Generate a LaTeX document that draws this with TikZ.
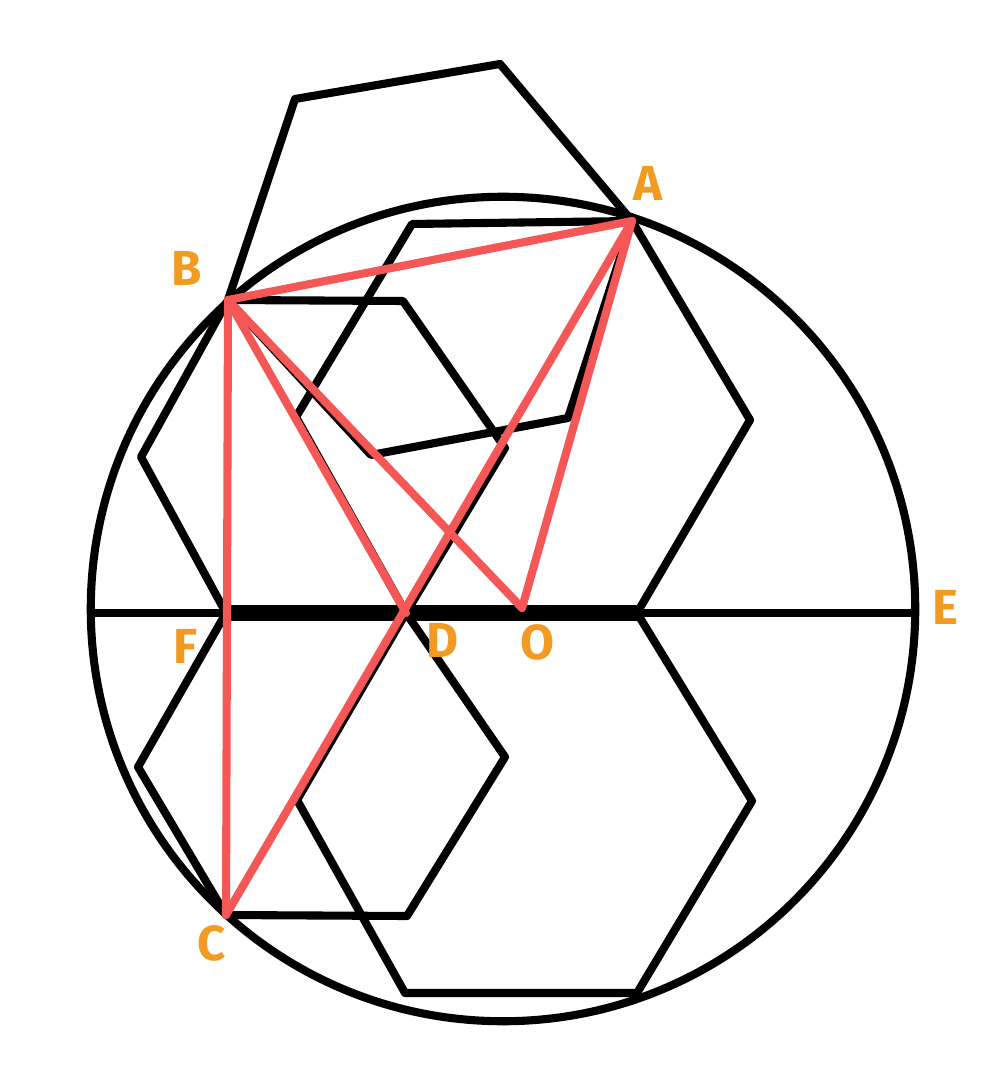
\documentclass[tikz,border=0pt]{standalone}
\usepackage{fontspec}
\setmainfont{Fira Sans}
\definecolor{chordred}{HTML}{F55656}
\definecolor{tagorange}{HTML}{F19B22}

\begin{document}
\begin{tikzpicture}[x=0.01cm,y=-0.01cm,line width=2.3pt,line join=round,line cap=round]
  \tikzstyle{hexside}=[draw=black]
  \tikzstyle{chord}=[draw=chordred]
  \tikzstyle{pttag}=[text=tagorange,font=\fontsize{14}{16}\selectfont\bfseries]

  \useasboundingbox (0,0) rectangle (1000,1083);

  % points of the figure
  \foreach \name/\x/\y in {A/632/221, B/228/300, C/226/915, D/406/613, F/226/613,
                           O/522/608, E/915/613, W/91/613, T/637/613, M/503/609}
    \coordinate (\name) at (\x,\y);

  % hexagon corners
  \foreach \name/\x/\y in {u2/403/301, u3/505/448, u6/141/457,
                           l3/505/757, l4/407/916, l6/138/767,
                           g1/412/224, g3/750/420, g6/296/417,
                           k3/752/801, k4/637/993, k5/405/993, k6/297/800,
                           t2/295/99, t3/500/64, t5/568/418, t6/371/455}
    \coordinate (\name) at (\x,\y);

  \draw (M) circle (4.12cm);
  \draw (W) -- (E);
  \draw[line width=4.8pt,line cap=butt] (F) -- (T);

  \draw[hexside] (B) -- (u2) -- (u3) -- (D) -- (F) -- (u6) -- cycle;
  \draw[hexside] (F) -- (D) -- (l3) -- (l4) -- (C) -- (l6) -- cycle;
  \draw[hexside] (g1) -- (A) -- (g3) -- (T) -- (D) -- (g6) -- cycle;
  \draw[hexside] (D) -- (T) -- (k3) -- (k4) -- (k5) -- (k6) -- cycle;
  \draw[hexside] (B) -- (t2) -- (t3) -- (A) -- (t5) -- (t6) -- cycle;

  \foreach \from/\to in {A/B,A/C,A/O,B/O,B/D,B/C}
    { \draw[chord] (\from) -- (\to); }

  \foreach \name/\x/\y in {A/648/183, B/187/268, C/212/943, D/443/640,
                           O/537/642, E/945/607, F/185/646}
    \node[pttag] (tag-\name) at (\x,\y) {\name};
\end{tikzpicture}
\end{document}
